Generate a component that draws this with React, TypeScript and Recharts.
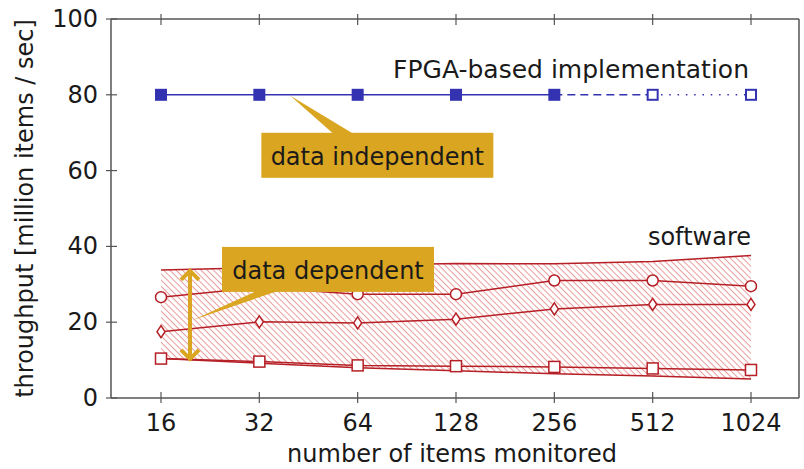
import React from 'react';
import { ComposedChart, Line, Area, XAxis, YAxis, ReferenceDot } from 'recharts';

const categories = ['16', '32', '64', '128', '256', '512', '1024'];
const fpgaSolid = [80, 80, 80, 80, 80, null, null];
const fpgaDashed = [null, null, null, null, 80, 80, null];
const fpgaDotted = [null, null, null, null, null, 80, 80];
const swCircle = [26.6, 29.2, 27.4, 27.4, 31.0, 31.0, 29.5];
const swDiamond = [17.5, 20.1, 19.8, 20.8, 23.5, 24.7, 24.7];
const swSquare = [10.4, 9.6, 8.6, 8.4, 8.2, 7.8, 7.4];
const swUpper = [33.8, 34.4, 35.0, 35.5, 35.4, 36.0, 37.6];
const swLower = [10.4, 9.2, 8.0, 7.2, 6.4, 5.8, 5.0];
const yTicks = [0, 20, 40, 60, 80, 100];

const data = categories.map((c, i) => ({
  cat: c,
  fpgaSolid: fpgaSolid[i],
  fpgaDashed: fpgaDashed[i],
  fpgaDotted: fpgaDotted[i],
  circle: swCircle[i],
  diamond: swDiamond[i],
  square: swSquare[i],
  upper: swUpper[i],
  lower: swLower[i],
  range: [swLower[i], swUpper[i]],
}));

const FONT = '"DejaVu Sans", sans-serif';
const BLUE = '#3333b2';
const RED = '#b51f25';
const GOLD = '#daa520';
const AXIS = '#555';
const TXT = '#1a1a1a';

const empty = (key: any) => <g key={key} />;

const blueFilled = (p: any) =>
  p.cx == null || p.cy == null ? empty(p.index) : (
    <rect key={p.index} x={p.cx - 6} y={p.cy - 6} width={12} height={12} fill={BLUE} />
  );
const blueOpen = (p: any) =>
  p.cx == null || p.cy == null ? empty(p.index) : (
    <rect key={p.index} x={p.cx - 5} y={p.cy - 5} width={10} height={10} fill="#fff" stroke={BLUE} strokeWidth={2} />
  );
const redCircle = (p: any) => (
  <circle key={p.index} cx={p.cx} cy={p.cy} r={5.5} fill="#fff" stroke={RED} strokeWidth={1.5} />
);
const redDiamond = (p: any) => (
  <polygon
    key={p.index}
    points={`${p.cx},${p.cy - 6} ${p.cx + 4},${p.cy} ${p.cx},${p.cy + 6} ${p.cx - 4},${p.cy}`}
    fill="#fff"
    stroke={RED}
    strokeWidth={1.5}
  />
);
const redSquare = (p: any) => (
  <rect key={p.index} x={p.cx - 5.5} y={p.cy - 5.5} width={11} height={11} fill="#fff" stroke={RED} strokeWidth={1.5} />
);

// axis ticks cross the frame line
const BottomTick = ({ x, y, payload }: any) => (
  <g>
    <line x1={x} x2={x} y1={y - 6} y2={y + 5} stroke={AXIS} strokeWidth={1.2} />
    <text x={x} y={y + 33} textAnchor="middle" fontSize={24} fontFamily={FONT} fill={TXT}>
      {payload.value}
    </text>
  </g>
);
const TopTick = ({ x, y }: any) => (
  <line x1={x} x2={x} y1={y - 5} y2={y + 6} stroke={AXIS} strokeWidth={1.2} />
);
const LeftTick = ({ x, y, payload }: any) => (
  <g>
    <line x1={x - 5} x2={x + 6} y1={y} y2={y} stroke={AXIS} strokeWidth={1.2} />
    <text x={x - 13} y={y + 8} textAnchor="end" fontSize={24} fontFamily={FONT} fill={TXT}>
      {payload.value}
    </text>
  </g>
);
const RightTick = ({ x, y }: any) => (
  <line x1={x - 6} x2={x + 5} y1={y} y2={y} stroke={AXIS} strokeWidth={1.2} />
);

const independentCallout = ({ cx, cy }: any) => (
  <g>
    <polygon points={`${cx + 31},${cy + 1} ${cx + 74},${cy + 39} ${cx + 94},${cy + 39}`} fill={GOLD} />
    <rect x={cx + 2} y={cy + 38} width={232} height={45} fill={GOLD} />
    <text x={cx + 118} y={cy + 70} textAnchor="middle" fontSize={24} fontFamily={FONT} fill={TXT}>
      data independent
    </text>
  </g>
);

const dependentCallout = ({ cx, cy }: any) => (
  <g>
    <line x1={cx + 29} x2={cx + 29} y1={cy + 2} y2={cy + 88} stroke={GOLD} strokeWidth={4} />
    <polyline points={`${cx + 20},${cy + 10} ${cx + 29},${cy + 1} ${cx + 38},${cy + 10}`} fill="none" stroke={GOLD} strokeWidth={4} />
    <polyline points={`${cx + 20},${cy + 80} ${cx + 29},${cy + 89} ${cx + 38},${cy + 80}`} fill="none" stroke={GOLD} strokeWidth={4} />
    <polygon points={`${cx + 32},${cy + 50} ${cx + 96},${cy + 21} ${cx + 117},${cy + 21}`} fill={GOLD} />
    <rect x={cx + 61} y={cy - 23} width={212} height={45} fill={GOLD} />
    <text x={cx + 167} y={cy + 9} textAnchor="middle" fontSize={24} fontFamily={FONT} fill={TXT}>
      data dependent
    </text>
  </g>
);

const fpgaLabel = ({ cx, cy }: any) => (
  <text x={cx - 2} y={cy - 17} textAnchor="end" fontSize={25} fontFamily={FONT} fill={TXT}>
    FPGA-based implementation
  </text>
);
const softwareLabel = ({ cx, cy }: any) => (
  <text x={cx} y={cy - 10} textAnchor="end" fontSize={24} fontFamily={FONT} fill={TXT}>
    software
  </text>
);

const xAxisTitle = ({ viewBox }: any) => (
  <text x={viewBox.x + viewBox.width / 2 - 3} y={462} textAnchor="middle" fontSize={24} fontFamily={FONT} fill={TXT}>
    number of items monitored
  </text>
);

export default function App() {
  return (
    <div style={{ position: 'absolute', left: 0, top: 0, background: '#fff' }}>
      <ComposedChart width={804} height={469} data={data} margin={{ top: 18, right: 4, bottom: 0, left: 0 }}>
        <defs>
          <pattern id="hatch" patternUnits="userSpaceOnUse" width={4.4} height={4.4} patternTransform="rotate(45)">
            <line x1={0} y1={0.5} x2={4.4} y2={0.5} stroke="#e99a9a" strokeWidth={1} />
          </pattern>
        </defs>
        <XAxis
          dataKey="cat"
          xAxisId={0}
          padding={{ left: 50, right: 48 }}
          height={71}
          axisLine={{ stroke: AXIS, strokeWidth: 1.5 }}
          tickLine={false}
          tickSize={0}
          tickMargin={0}
          interval={0}
          tick={BottomTick}
          label={{ content: xAxisTitle }}
        />
        <XAxis
          dataKey="cat"
          xAxisId="top"
          orientation="top"
          padding={{ left: 50, right: 48 }}
          height={1}
          axisLine={{ stroke: AXIS, strokeWidth: 1.5 }}
          tickLine={false}
          tickSize={0}
          tickMargin={0}
          interval={0}
          tick={TopTick}
        />
        <YAxis
          yAxisId={0}
          domain={[0, 100]}
          ticks={yTicks}
          width={111}
          axisLine={{ stroke: AXIS, strokeWidth: 1.5 }}
          tickLine={false}
          tickSize={0}
          tickMargin={0}
          tick={LeftTick}
          label={{
            value: 'throughput [million items / sec]',
            angle: -90,
            position: 'insideLeft',
            offset: 0,
            dx: 24,
            style: { textAnchor: 'middle', fontSize: 24, fontFamily: FONT, fill: TXT },
          }}
        />
        <YAxis
          yAxisId="right"
          orientation="right"
          domain={[0, 100]}
          ticks={yTicks}
          width={1}
          axisLine={{ stroke: AXIS, strokeWidth: 1.5 }}
          tickLine={false}
          tickSize={0}
          tickMargin={0}
          tick={RightTick}
        />

        <Area dataKey="range" type="linear" fill="url(#hatch)" fillOpacity={1} stroke="none" isAnimationActive={false} />
        <Line dataKey="upper" type="linear" stroke={RED} strokeWidth={1.5} dot={false} isAnimationActive={false} />
        <Line dataKey="lower" type="linear" stroke={RED} strokeWidth={1.5} dot={false} isAnimationActive={false} />
        <Line dataKey="square" type="linear" stroke={RED} strokeWidth={1.5} dot={redSquare} isAnimationActive={false} />
        <Line dataKey="diamond" type="linear" stroke={RED} strokeWidth={1.5} dot={redDiamond} isAnimationActive={false} />
        <Line dataKey="circle" type="linear" stroke={RED} strokeWidth={1.5} dot={redCircle} isAnimationActive={false} />

        <Line dataKey="fpgaDashed" type="linear" stroke={BLUE} strokeWidth={1.5} strokeDasharray="8 5" dot={false} isAnimationActive={false} />
        <Line dataKey="fpgaDotted" type="linear" stroke={BLUE} strokeWidth={1.5} strokeDasharray="1.5 6.8" dot={blueOpen} isAnimationActive={false} />
        <Line dataKey="fpgaSolid" type="linear" stroke={BLUE} strokeWidth={1.5} dot={blueFilled} isAnimationActive={false} />

        <ReferenceDot x="32" y={80} shape={independentCallout} />
        <ReferenceDot x="16" y={swUpper[0]} shape={dependentCallout} />
        <ReferenceDot x="1024" y={80} shape={fpgaLabel} />
        <ReferenceDot x="1024" y={swUpper[6]} shape={softwareLabel} />
      </ComposedChart>
    </div>
  );
}
